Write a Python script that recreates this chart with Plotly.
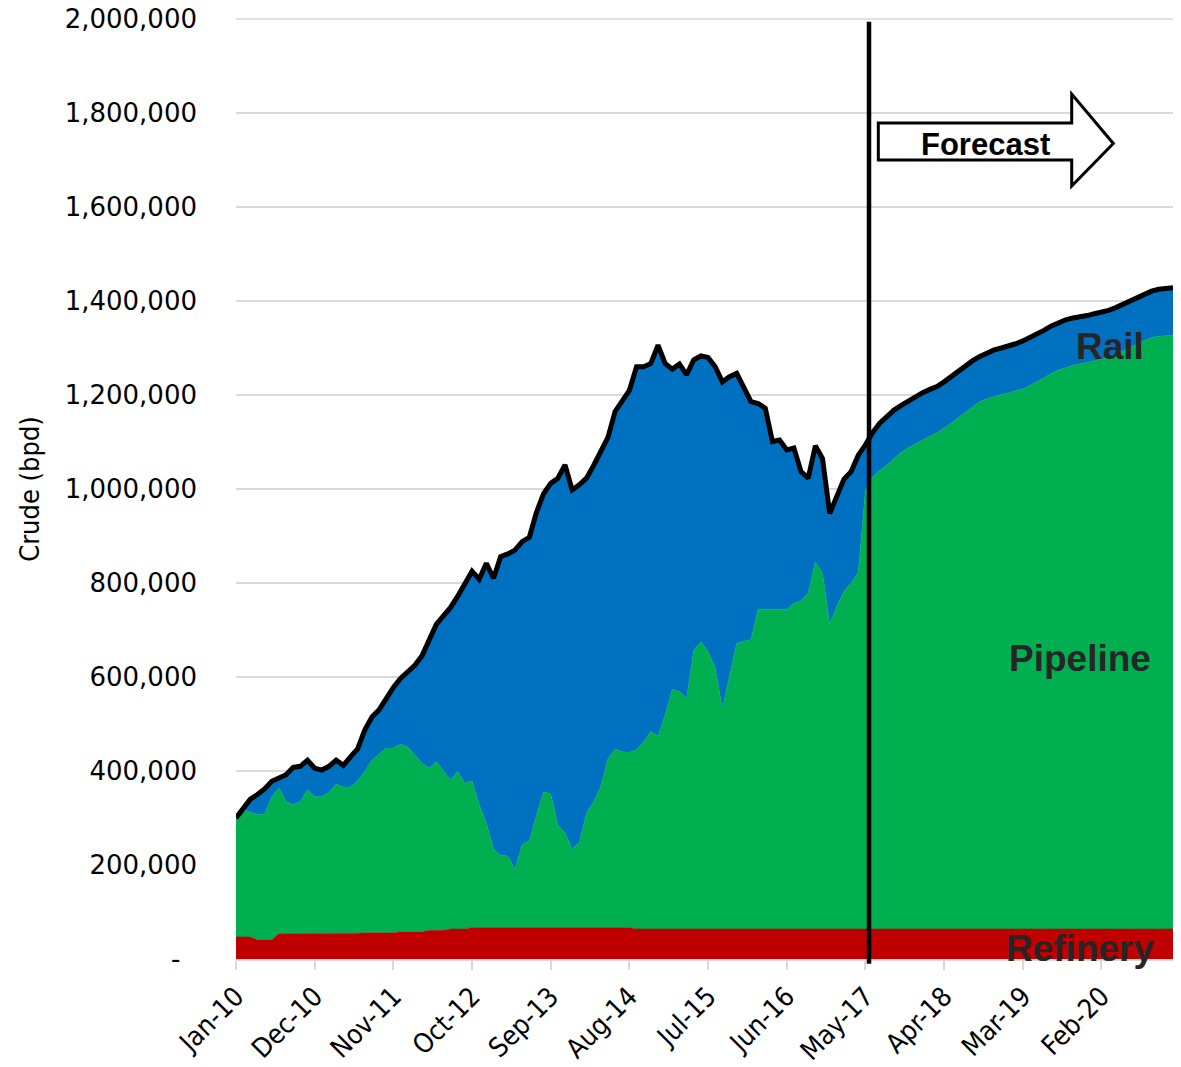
import numpy as np
import plotly.graph_objects as go

# monthly data Jan-10 .. Dec-20, thousand barrels per day
refinery_k = [47, 47, 47, 41, 41, 41, 54, 54, 54, 54, 54, 54, 54, 54, 55, 55, 55, 55, 56, 56,
              56, 56, 56, 58, 58, 58, 58, 61, 61, 61, 64, 64, 64, 67, 67, 67, 67, 67, 67, 67,
              67, 67, 67, 67, 67, 67, 67, 67, 67, 67, 67, 67, 67, 67, 67, 67, 64, 64, 64, 64,
              64, 64, 64, 64, 64, 64, 64, 64, 64, 64, 64, 64, 64, 64, 64, 64, 64, 64, 64, 64,
              64, 64, 64, 64, 64, 64, 64, 64, 64, 64, 64, 64, 64, 64, 64, 64, 64, 64, 64, 64,
              64, 64, 64, 64, 64, 64, 64, 64, 64, 64, 64, 64, 64, 64, 64, 64, 64, 64, 64, 64,
              64, 64, 64, 64, 64, 64, 64, 64, 64, 64, 64, 64]

pipeline_k = [253, 271, 265, 267, 267, 304, 310, 281, 274, 281, 306, 291, 291, 300, 317, 311, 311, 324, 343, 367,
              380, 393, 393, 399, 393, 376, 359, 345, 359, 339, 317, 335, 310, 312, 261, 222, 167, 154, 152, 124,
              176, 185, 239, 289, 284, 218, 201, 167, 181, 243, 268, 300, 359, 380, 374, 373, 381, 398, 420, 410,
              455, 510, 505, 491, 593, 611, 590, 555, 469, 537, 608, 612, 616, 680, 680, 680, 680, 680, 693, 698,
              714, 781, 757, 649, 686, 718, 736, 758, 934, 961, 976, 986, 1001, 1014, 1024, 1032, 1040, 1048, 1056, 1066,
              1076, 1088, 1100, 1112, 1122, 1128, 1133, 1137, 1141, 1145, 1149, 1156, 1164, 1173, 1182, 1189, 1194, 1199, 1202, 1205,
              1208, 1212, 1217, 1223, 1230, 1237, 1245, 1252, 1258, 1261, 1262, 1263]

rail_k = [0, 2, 28, 42, 54, 33, 21, 57, 80, 75, 63, 61, 57, 56, 51, 46, 64, 68, 88, 92,
          94, 106, 129, 140, 161, 191, 228, 274, 292, 330, 367, 373, 426, 446, 480, 553, 576, 635, 643, 679,
          645, 645, 644, 634, 661, 738, 783, 764, 761, 713, 715, 713, 684, 718, 749, 770, 815, 798, 783, 832,
          748, 681, 697, 688, 618, 608, 626, 641, 695, 638, 574, 538, 506, 438, 428, 357, 360, 339, 330, 275,
          245, 247, 244, 235, 234, 239, 237, 250, 96, 95, 100, 105, 103, 100, 100, 101, 101, 100, 98, 98,
          100, 98, 98, 97, 96, 98, 99, 99, 99, 100, 102, 102, 102, 101, 101, 102, 102, 101, 100, 100,
          101, 100, 99, 99, 99, 99, 99, 99, 99, 100, 101, 101]

tick_labels = ["Jan-10", "Dec-10", "Nov-11", "Oct-12", "Sep-13", "Aug-14",
               "Jul-15", "Jun-16", "May-17", "Apr-18", "Mar-19", "Feb-20"]
forecast_start = 88.5  # between May-17 and Jun-17

refinery = np.array(refinery_k) * 1000
pipeline = np.array(pipeline_k) * 1000
rail = np.array(rail_k) * 1000
total = refinery + pipeline + rail
x = np.arange(len(refinery))

RED, GREEN, BLUE = "#C00000", "#00B050", "#0070C0"
TXT = "#262626"
GRID = "#d9d9d9"

fig = go.Figure()
for name, vals, col in [("Refinery", refinery, RED), ("Pipeline", pipeline, GREEN), ("Rail", rail, BLUE)]:
    fig.add_trace(go.Scatter(x=x, y=vals, name=name, stackgroup="one", mode="lines",
                             line=dict(width=0.5, color=col), fillcolor=col))
fig.add_trace(go.Scatter(x=x, y=total, name="Total", mode="lines",
                         line=dict(width=5, color="black")))

# top gridline (plotly skips the one on the range edge)
fig.add_shape(type="line", xref="paper", yref="paper", x0=0, x1=1, y0=1, y1=1,
              line=dict(color=GRID, width=1.5), layer="below")

# forecast divider
fig.add_shape(type="line", x0=forecast_start, x1=forecast_start, xref="x", yref="paper",
              y0=-0.005, y1=0.997, line=dict(color="black", width=4.5))

# forecast block arrow (paper coords)
fig.add_shape(type="path", xref="paper", yref="paper",
              path="M 0.6855 0.8894 L 0.8919 0.8894 L 0.8919 0.9202 L 0.9363 0.8676 "
                   "L 0.8919 0.8223 L 0.8919 0.8500 L 0.6855 0.8500 Z",
              fillcolor="white", line=dict(color="black", width=3))
fig.add_annotation(text="<b>Forecast</b>", xref="paper", yref="paper", x=0.7994, y=0.8660,
                   xanchor="center", yanchor="middle", showarrow=False,
                   font=dict(family="Liberation Sans, Arial", size=31, color="black"))

for label, xp, yp in [("Rail", 0.9328, 0.6521), ("Pipeline", 0.9007, 0.3202), ("Refinery", 0.9007, 0.0117)]:
    fig.add_annotation(text="<b>%s</b>" % label, xref="paper", yref="paper", x=xp, y=yp,
                       xanchor="center", yanchor="middle", showarrow=False,
                       font=dict(family="Liberation Sans, Arial", size=37, color=TXT))

yvals = list(range(0, 2000001, 200000))
ytext = ["-\u00a0\u00a0"] + ["{:,}".format(v) for v in yvals[1:]]

fig.update_layout(
    width=1181, height=1067,
    margin=dict(l=236, r=8, t=19, b=108),
    plot_bgcolor="white", paper_bgcolor="white",
    showlegend=False,
)
fig.update_xaxes(range=[0, len(x) - 1], tickvals=x[::11], ticktext=tick_labels, automargin=False,
                 tickangle=-45, tickfont=dict(family="DejaVu Sans Condensed, DejaVu Sans", size=27, color="black"),
                 showgrid=False, showline=True, linecolor=GRID, linewidth=2,
                 ticks="outside", ticklen=9, tickcolor=GRID, tickwidth=2, zeroline=False)
fig.update_yaxes(range=[0, 2000000], tickvals=yvals, ticktext=ytext, automargin=False,
                 tickfont=dict(family="DejaVu Sans", size=26, color="black"),
                 showgrid=True, gridcolor=GRID, gridwidth=1.5, zeroline=False,
                 ticklabelstandoff=38,
                 title=dict(text="Crude (bpd)", standoff=17,
                            font=dict(family="DejaVu Sans Condensed, DejaVu Sans", size=27, color="black")))

# page body has a default 8px margin; drop it so the figure fills the window
fig.write_html("out.html", config={"displayModeBar": False},
               post_script="document.body.style.margin='0';")
